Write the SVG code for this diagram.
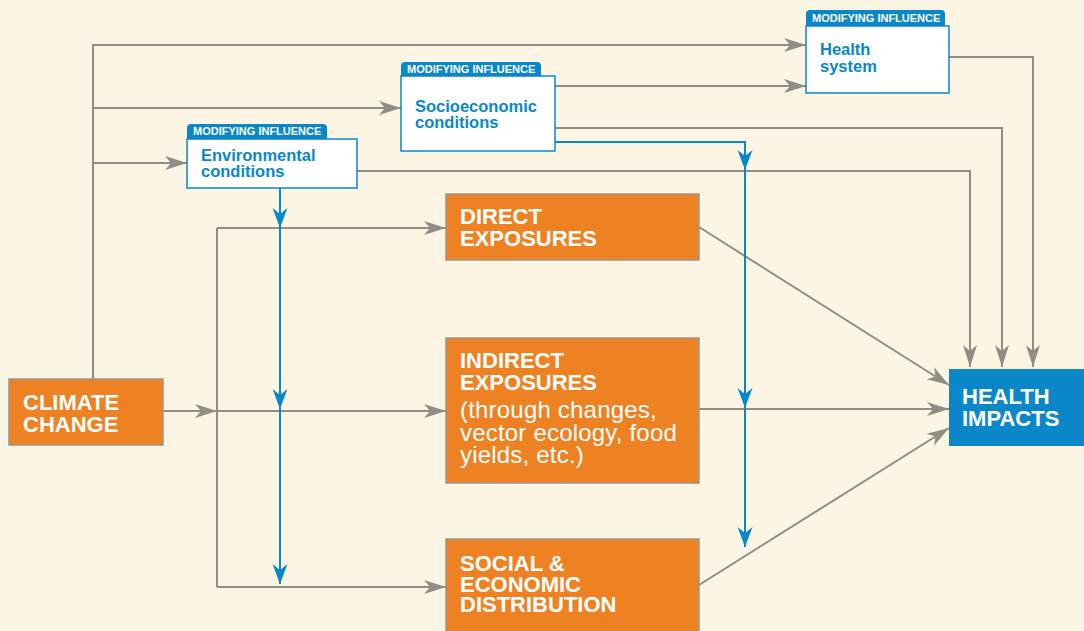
<svg xmlns="http://www.w3.org/2000/svg" width="1084" height="631" viewBox="0 0 1084 631">
<defs>
<style>
.g{fill:none;stroke:#8f8e86;stroke-width:2}
.b{fill:none;stroke:#0a87c8;stroke-width:2}
.ob{fill:#ee8222;stroke:#999690;stroke-width:1.5}
.mb{fill:#ffffff;stroke:#0a87c8;stroke-width:1.5}
.tab{fill:#0a87c8}
.h{font-family:"Liberation Sans",Arial,sans-serif;font-weight:bold;font-size:22px;fill:#ffffff}
.r{font-family:"Liberation Sans",Arial,sans-serif;font-size:24px;letter-spacing:0.2px;fill:#ffffff}
.tt{font-family:"Liberation Sans",Arial,sans-serif;font-weight:bold;font-size:11px;fill:#ffffff}
.mt{font-family:"Liberation Sans",Arial,sans-serif;font-weight:bold;font-size:16.5px;fill:#0a87c8}
</style>
<marker id="ag" markerUnits="userSpaceOnUse" markerWidth="26" markerHeight="18" viewBox="-23 -9 26 18" refX="0" refY="0" orient="auto">
<path d="M0,0 L-22,-7 L-16,0 L-22,7 Z" fill="#8f8e86"/>
</marker>
<marker id="ab" markerUnits="userSpaceOnUse" markerWidth="26" markerHeight="18" viewBox="-23 -9 26 18" refX="0" refY="0" orient="auto">
<path d="M0,0 L-20,-7.5 L-14,0 L-20,7.5 Z" fill="#0a87c8"/>
</marker>
</defs>
<rect width="1084" height="631" fill="#fcf5e3"/>
<g id="connectors">
<polyline class="g" points="93,379 93,45 806,45" marker-end="url(#ag)"/>
<line class="g" x1="93" y1="108" x2="401" y2="108" marker-end="url(#ag)"/>
<line class="g" x1="93" y1="163" x2="187" y2="163" marker-end="url(#ag)"/>
<line class="g" x1="163" y1="411" x2="217" y2="411" marker-end="url(#ag)"/>
<line class="g" x1="217" y1="228" x2="217" y2="587"/>
<line class="g" x1="217" y1="228" x2="446" y2="228" marker-end="url(#ag)"/>
<line class="g" x1="217" y1="411" x2="446" y2="411" marker-end="url(#ag)"/>
<line class="g" x1="217" y1="587" x2="446" y2="587" marker-end="url(#ag)"/>
<line class="g" x1="555" y1="86" x2="806" y2="86" marker-end="url(#ag)"/>
<polyline class="g" points="357,171 970,171 970,367" marker-end="url(#ag)"/>
<polyline class="g" points="555,128 1002,128 1002,367" marker-end="url(#ag)"/>
<polyline class="g" points="949,57 1033,57 1033,367" marker-end="url(#ag)"/>
<line class="g" x1="699" y1="227" x2="949" y2="385" marker-end="url(#ag)"/>
<line class="g" x1="699" y1="409" x2="949" y2="409" marker-end="url(#ag)"/>
<line class="g" x1="699" y1="585" x2="949" y2="428" marker-end="url(#ag)"/>
<line class="b" x1="280" y1="188" x2="280" y2="228" marker-end="url(#ab)"/>
<line class="b" x1="280" y1="228" x2="280" y2="409" marker-end="url(#ab)"/>
<line class="b" x1="280" y1="409" x2="280" y2="584" marker-end="url(#ab)"/>
<polyline class="b" points="555,142 745,142 745,170" marker-end="url(#ab)"/>
<line class="b" x1="745" y1="170" x2="745" y2="408" marker-end="url(#ab)"/>
<line class="b" x1="745" y1="408" x2="745" y2="547" marker-end="url(#ab)"/>
</g>
<g id="climate-change">
<rect class="ob" x="9" y="379" width="154" height="66"/>
<text class="h" x="23" y="410">CLIMATE</text>
<text class="h" x="23" y="432">CHANGE</text>
</g>
<g id="environmental">
<path class="tab" d="M187,139 V128 Q187,124 191,124 H323 Q327,124 327,128 V139 Z"/>
<text class="tt" x="193" y="135">MODIFYING INFLUENCE</text>
<rect class="mb" x="187" y="139" width="170" height="49"/>
<text class="mt" x="201" y="161">Environmental</text>
<text class="mt" x="201" y="177">conditions</text>
</g>
<g id="socioeconomic">
<path class="tab" d="M401,76 V66 Q401,62 405,62 H537 Q541,62 541,66 V76 Z"/>
<text class="tt" x="407" y="73">MODIFYING INFLUENCE</text>
<rect class="mb" x="401" y="76" width="154" height="75"/>
<text class="mt" x="415" y="112">Socioeconomic</text>
<text class="mt" x="415" y="128">conditions</text>
</g>
<g id="health-system">
<path class="tab" d="M806,26 V14 Q806,10 810,10 H941 Q945,10 945,14 V26 Z"/>
<text class="tt" x="812" y="22">MODIFYING INFLUENCE</text>
<rect class="mb" x="806" y="26" width="143" height="67"/>
<text class="mt" x="820" y="55">Health</text>
<text class="mt" x="820" y="72">system</text>
</g>
<g id="direct-exposures">
<rect class="ob" x="446" y="194" width="253" height="66"/>
<text class="h" x="460" y="224">DIRECT</text>
<text class="h" x="460" y="246">EXPOSURES</text>
</g>
<g id="indirect-exposures">
<rect class="ob" x="446" y="338" width="253" height="145"/>
<text class="h" x="460" y="368">INDIRECT</text>
<text class="h" x="460" y="390">EXPOSURES</text>
<text class="r" x="460" y="418">(through changes,</text>
<text class="r" x="460" y="441">vector ecology, food</text>
<text class="r" x="460" y="463">yields, etc.)</text>
</g>
<g id="social-economic">
<rect class="ob" x="446" y="539" width="253" height="100"/>
<text class="h" x="460" y="571">SOCIAL &amp;</text>
<text class="h" x="460" y="592">ECONOMIC</text>
<text class="h" x="460" y="612">DISTRIBUTION</text>
</g>
<g id="health-impacts">
<rect x="949" y="369" width="135" height="77" fill="#0a87c8"/>
<text class="h" x="962" y="404">HEALTH</text>
<text class="h" x="962" y="426">IMPACTS</text>
</g>
</svg>
